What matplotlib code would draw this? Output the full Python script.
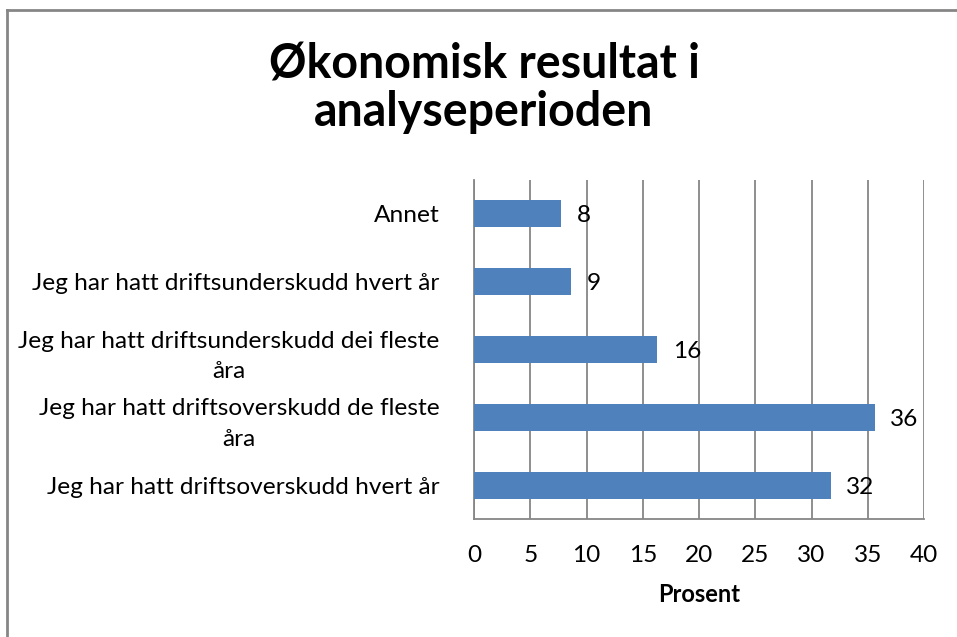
import matplotlib
matplotlib.use('Agg')
import matplotlib.pyplot as plt
from matplotlib.lines import Line2D

# data (top to bottom as shown)
categories = ['Annet',
              'Jeg har hatt driftsunderskudd hvert år',
              'Jeg har hatt driftsunderskudd dei fleste\nåra',
              'Jeg har hatt driftsoverskudd de fleste\nåra',
              'Jeg har hatt driftsoverskudd hvert år']
values = [7.7, 8.6, 16.3, 35.6, 31.7]
labels = ['8', '9', '16', '36', '32']
xticks = [0, 5, 10, 15, 20, 25, 30, 35, 40]

BAR = '#4F81BD'
GRID = '#868686'
FONT = 'Lato'
FS = 17.6

W, H = 957, 637
fig = plt.figure(figsize=(W / 100, H / 100), dpi=100)
ax = fig.add_axes([474 / W, 1 - 519 / H, 450 / W, 339 / H])

ypos = list(range(len(categories)))[::-1]
ax.barh(ypos, values, height=0.4, color=BAR, zorder=3)
for y, v, lab in zip(ypos, values, labels):
    ax.text(v + 1.4, y - 0.03, lab, va='center', ha='left', fontsize=FS, family=FONT)

ax.set_xlim(0, 40)
ax.set_ylim(-0.5, len(categories) - 0.5)
ax.set_xticks(xticks)
ax.set_xticklabels([str(t) for t in xticks], fontsize=FS, family=FONT)
ax.set_yticks(ypos)
ax.set_yticklabels(categories, fontsize=FS, family=FONT)
for t in ax.get_yticklabels():
    t.set_multialignment('center')
    t.set_linespacing(1.55)
ax.tick_params(axis='both', length=0)
ax.tick_params(axis='x', pad=19)
ax.tick_params(axis='y', pad=25)
ax.xaxis.grid(True, color=GRID, linewidth=1.3, zorder=0)
for s in ['top', 'right']:
    ax.spines[s].set_visible(False)
for s in ['left', 'bottom']:
    ax.spines[s].set_color(GRID)
    ax.spines[s].set_linewidth(1.3)
ax.set_xlabel('Prosent', fontsize=17, fontweight='bold', family=FONT, labelpad=12)

fig.text(484 / W, 1 - 88 / H, 'Økonomisk resultat i\nanalyseperioden', ha='center', va='center',
         fontsize=33.5, fontweight='bold', family=FONT, linespacing=1.1)

# chart border (left and top edges visible)
fig.add_artist(Line2D([7 / W, 7 / W], [0, 1 - 10 / H], color=GRID, linewidth=2, transform=fig.transFigure))
fig.add_artist(Line2D([7 / W, 1], [1 - 10 / H, 1 - 10 / H], color=GRID, linewidth=2, transform=fig.transFigure))

fig.savefig('out.png', dpi=100)
